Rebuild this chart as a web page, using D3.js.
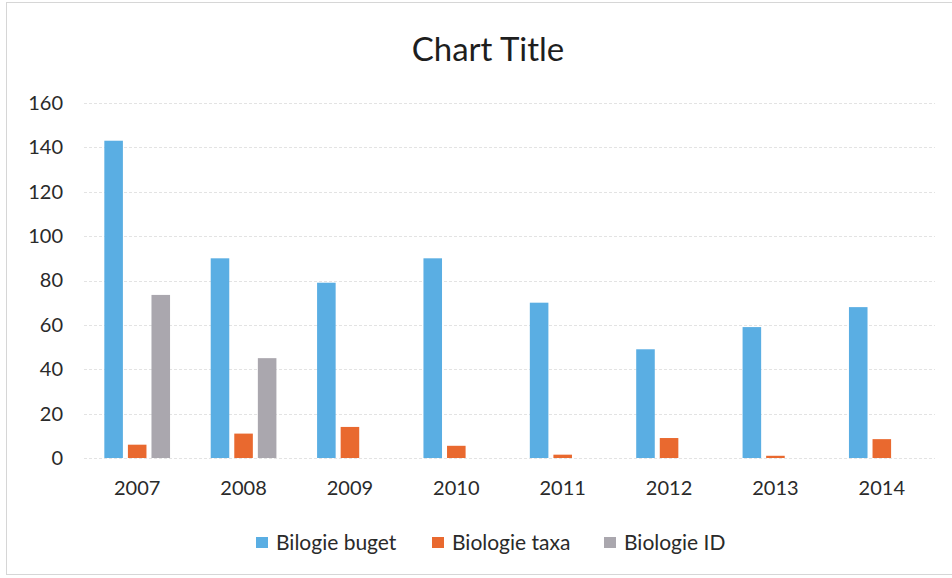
<!DOCTYPE html>
<html><head><meta charset="utf-8">
<script src="https://cdn.jsdelivr.net/npm/d3@7"></script>
<style>html,body{margin:0;padding:0;background:#fff;}svg{display:block;}</style>
</head><body>
<svg id="chart" width="952" height="578"></svg>
<script>
const years = ["2007","2008","2009","2010","2011","2012","2013","2014"];
const seriesNames = ["Bilogie buget","Biologie taxa","Biologie ID"];
const buget = [143, 90, 79, 90, 70, 49, 59, 68];
const taxa = [6, 11, 14, 5.5, 1.5, 9, 1, 8.5];
const bioId = [73.5, 45, 0, 0, 0, 0, 0, 0];
const yTicks = [0, 20, 40, 60, 80, 100, 120, 140, 160];
const colors = ["#5aaee3", "#e9692f", "#aaa7ae"];

const svg = d3.select("#chart");
const font = "Lato, 'Open Sans', sans-serif";
const plot = {left: 84, right: 935, top: 103, bottom: 458};

// border
svg.append("rect").attr("x", 6.5).attr("y", 2.5).attr("width", 960).attr("height", 572)
  .attr("fill", "none").attr("stroke", "#d6d6d6").attr("stroke-width", 1);

const x = d3.scaleBand().domain(years).range([plot.left, plot.right]).paddingInner(0).paddingOuter(0);
const y = d3.scaleLinear().domain([0, 160]).range([plot.bottom, plot.top]);

// gridlines
svg.append("g").selectAll("line").data(yTicks).join("line")
  .attr("x1", plot.left).attr("x2", plot.right)
  .attr("y1", d => Math.round(y(d)) + 0.5).attr("y2", d => Math.round(y(d)) + 0.5)
  .attr("stroke", "#e3e3e3").attr("stroke-width", 1).attr("stroke-dasharray", "3,2");

// y axis labels
const yAxis = d3.axisLeft(y).tickValues(yTicks).tickSize(0).tickPadding(21);
const gy = svg.append("g").attr("transform", `translate(${plot.left},0)`).call(yAxis);
gy.select(".domain").remove();
gy.selectAll("text").attr("font-family", font).attr("font-size", 20).attr("fill", "#2a2a2a");

// x axis labels
const xAxis = d3.axisBottom(x).tickSize(0).tickPadding(23);
const gx = svg.append("g").attr("transform", `translate(0,${plot.bottom})`).call(xAxis);
gx.select(".domain").remove();
gx.selectAll("text").attr("font-family", font).attr("font-size", 20).attr("fill", "#2a2a2a");

// bars
const bw = x.bandwidth() / 5.73;
const step = bw * 1.27;
const all = [buget, taxa, bioId];
all.forEach((vals, si) => {
  svg.append("g").selectAll("rect").data(vals.map((v, i) => ({v, year: years[i]})))
    .join("rect")
    .attr("x", d => x(d.year) + x.bandwidth() / 2 + (si - 1) * step - bw / 2)
    .attr("width", bw)
    .attr("y", d => y(d.v))
    .attr("height", d => y(0) - y(d.v))
    .attr("fill", colors[si]);
});

// title
svg.append("text").attr("x", 488).attr("y", 61).attr("text-anchor", "middle")
  .attr("font-family", font).attr("font-size", 33).attr("fill", "#1e1e1e").text("Chart Title");

// legend
const legendX = [256, 432, 604];
const lg = svg.append("g");
seriesNames.forEach((n, i) => {
  lg.append("rect").attr("x", legendX[i]).attr("y", 537).attr("width", 12).attr("height", 11).attr("fill", colors[i]);
  lg.append("text").attr("x", legendX[i] + 20).attr("y", 550).attr("font-family", font)
    .attr("font-size", 21).attr("fill", "#2a2a2a").text(n);
});
</script>
</body></html>
